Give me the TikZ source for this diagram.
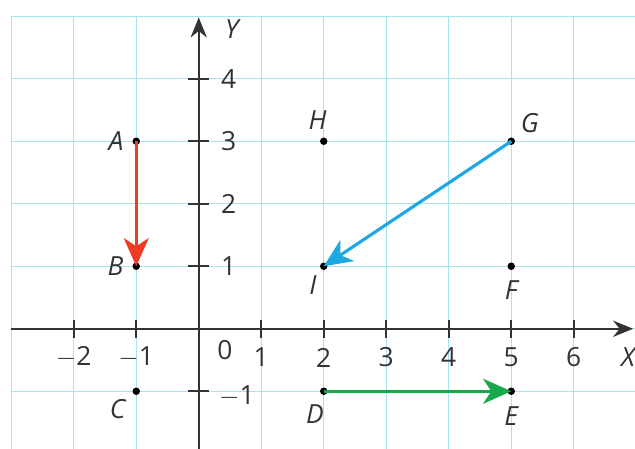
\documentclass[tikz,border=0pt]{standalone}
\usepackage{fontspec}
\setmainfont{Open Sans}
\usetikzlibrary{positioning,arrows.meta}

\definecolor{gridcyan}{HTML}{A8E4EE}
\definecolor{axisgray}{HTML}{333333}
\definecolor{vecred}{HTML}{EE3B24}
\definecolor{vecblue}{HTML}{1CA9E2}
\definecolor{vecgreen}{HTML}{18A84C}

\tikzset{
  gridline/.style={gridcyan, line width=0.65pt},
  axisline/.style={axisgray, line width=1pt, -{Stealth[length=3.2mm,width=2.6mm]}},
  tickmark/.style={axisgray, line width=0.9pt},
  dot/.style={circle, fill=black, inner sep=0pt, minimum size=3.4pt},
  ptlabel/.style={inner sep=0pt, font=\fontsize{12}{14}\selectfont\itshape, text=axisgray},
  numlabel/.style={inner sep=0pt, font=\fontsize{12}{14}\selectfont, text=axisgray},
  vector/.style={line width=1.4pt, -{Stealth[length=4.5mm,width=4mm,inset=1.3mm]}}
}

\begin{document}
\begin{tikzpicture}

	\useasboundingbox (-3.18,-1.92) rectangle (6.98,5.26);

	% grid
	\draw[gridline] (-3,-1.92) grid (6.98,5);

	% axes
	\coordinate (xstart) at (-3,0);
	\coordinate (xend) at (6.95,0);
	\coordinate (ystart) at (0,-1.92);
	\coordinate (yend) at (0,4.98);
	\draw[axisline] (xstart) -- (xend);
	\draw[axisline] (ystart) -- (yend);

	\node[ptlabel] (xname) at (6.87,-0.46) {X};
	\node[ptlabel] (yname) at (0.53,4.79) {Y};

	% ticks
	\foreach \x in {-2,-1,1,2,3,4,5,6}
	  \draw[tickmark] (\x,-0.14) -- (\x,0.14);
	\foreach \y in {-1,1,2,3,4}
	  \draw[tickmark] (-0.17,\y) -- (0.17,\y);

	\foreach \x/\t in {-2/$-$2,-1/$-$1,1/1,2/2,3/3,4/4,5/5,6/6}
	  \node[numlabel] (tx\x) at (\x,-0.46) {\t};
	\foreach \y in {1,2,3,4}
	  \node[numlabel, anchor=west] (ty\y) at (0.35,\y) {\y};
	\node[numlabel, anchor=west] (tym1) at (0.32,-1.08) {$-$1};
	\node[numlabel] (origin) at (0.42,-0.34) {0};

	% points
	\node[dot] (A) at (-1,3) {};
	\node[dot] (B) at (-1,1) {};
	\node[dot] (C) at (-1,-1) {};
	\node[dot] (D) at (2,-1) {};
	\node[dot] (E) at (5,-1) {};
	\node[dot] (F) at (5,1) {};
	\node[dot] (G) at (5,3) {};
	\node[dot] (H) at (2,3) {};
	\node[dot] (I) at (2,1) {};

	\node[ptlabel] (labA) [left=0.13cm of A] {A};
	\node[ptlabel] (labB) [left=0.13cm of B] {B};
	\node[ptlabel] (labC) [below left=0.07cm and 0.12cm of C] {C};
	\node[ptlabel] (labD) [below=0.14cm of D, xshift=-1.4mm] {D};
	\node[ptlabel] (labE) [below=0.18cm of E] {E};
	\node[ptlabel] (labF) [below=0.15cm of F] {F};
	\node[ptlabel] (labG) [above right=0.08cm and 0.1cm of G] {G};
	\node[ptlabel] (labH) [above=0.12cm of H, xshift=-1mm] {H};
	\node[ptlabel] (labI) [below left=0.1cm and 0.06cm of I] {I};

	% vectors
	\draw[vector, vecred] (A.center) -- (B.center);
	\draw[vector, vecblue] (G.center) -- (I.center);
	\draw[vector, vecgreen] (D.center) -- (E.center);

\end{tikzpicture}
\end{document}
